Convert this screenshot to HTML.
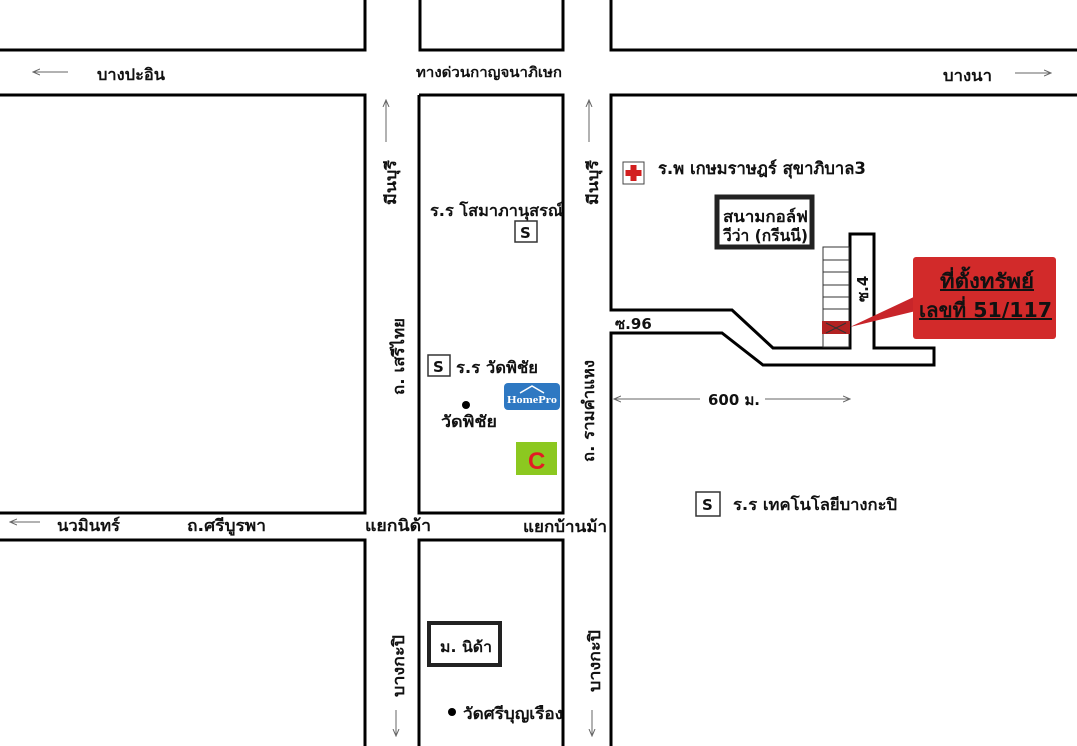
<!DOCTYPE html>
<html><head><meta charset="utf-8"><style>
html,body{margin:0;padding:0;background:#fff;}
svg{display:block;}
text{font-family:"DejaVu Sans","Liberation Sans",sans-serif;font-weight:bold;fill:#111;}
</style></head><body>
<svg width="1077" height="746" viewBox="0 0 1077 746" xmlns="http://www.w3.org/2000/svg">
<defs>
<marker id="ah" markerWidth="8" markerHeight="8" refX="7" refY="4" orient="auto"><path d="M0,1 L7,4 L0,7" fill="none" stroke="#666" stroke-width="1"/></marker>
</defs>
<g fill="none" stroke="#000" stroke-width="3">
<polyline points="0,50 365,50 365,0"/>
<polyline points="420,0 420,50 563,50 563,0"/>
<polyline points="611,0 611,50 1077,50"/>
<polyline points="0,95 365,95 365,513 0,513"/>
<polyline points="419,95 563,95 563,513 419,513 419,95"/>
<polyline points="1077,95 611,95 611,310 732,310 773,348 850,348 850,234 874,234 874,348 934,348 934,365 763,365 722,333 611,333 611,746"/>
<polyline points="0,540 365,540 365,746"/>
<polyline points="419,746 419,540 563,540 563,746"/>
</g>
<rect x="717" y="197" width="95" height="50" fill="#fff" stroke="#222" stroke-width="5"/>
<text x="723" y="222" font-size="16" textLength="85" lengthAdjust="spacingAndGlyphs">สนามกอล์ฟ</text>
<text x="723" y="241" font-size="16" textLength="85" lengthAdjust="spacingAndGlyphs">วีว่า (กรีนนี)</text>
<g stroke="#333" stroke-width="1" fill="none">
<rect x="823" y="247" width="26" height="100"/>
<line x1="823" y1="260" x2="849" y2="260"/><line x1="823" y1="272" x2="849" y2="272"/>
<line x1="823" y1="285" x2="849" y2="285"/><line x1="823" y1="297" x2="849" y2="297"/>
<line x1="823" y1="309" x2="849" y2="309"/>
</g>
<rect x="822" y="321" width="28" height="13" fill="#b22222"/>
<path d="M826,323 L846,333 M846,323 L826,333" stroke="#333" stroke-width="1"/>
<polygon points="850,327 918,295 920,310" fill="#c8252a"/>
<rect x="913" y="257" width="143" height="82" fill="#d22a2a" rx="3"/>
<text x="940" y="288" font-size="20" text-decoration="underline" textLength="94" lengthAdjust="spacingAndGlyphs">ที่ตั้งทรัพย์</text>
<text x="919" y="317" font-size="20" text-decoration="underline" textLength="133" lengthAdjust="spacingAndGlyphs">เลขที่ 51/117</text>
<text font-size="15" transform="translate(868,302) rotate(-90)">ซ.4</text>
<text x="615" y="329" font-size="15">ซ.96</text>
<line x1="700" y1="399" x2="614" y2="399" stroke="#666" marker-end="url(#ah)"/>
<line x1="765" y1="399" x2="850" y2="399" stroke="#666" marker-end="url(#ah)"/>
<text x="708" y="405" font-size="15" textLength="52" lengthAdjust="spacingAndGlyphs">600 ม.</text>
<line x1="68" y1="72" x2="33" y2="72" stroke="#666" marker-end="url(#ah)"/>
<text x="97" y="80" font-size="16" textLength="68" lengthAdjust="spacingAndGlyphs">บางปะอิน</text>
<text x="416" y="77" font-size="14" textLength="146" lengthAdjust="spacingAndGlyphs">ทางด่วนกาญจนาภิเษก</text>
<text x="943" y="81" font-size="16" textLength="49" lengthAdjust="spacingAndGlyphs">บางนา</text>
<line x1="1015" y1="73" x2="1051" y2="73" stroke="#666" marker-end="url(#ah)"/>
<rect x="623" y="162" width="21" height="22" fill="#fff" stroke="#444"/>
<path d="M633.5,165 v16 M625.5,173 h16" stroke="#d21f1f" stroke-width="6"/>
<text x="658" y="174" font-size="16.5" textLength="208" lengthAdjust="spacingAndGlyphs">ร.พ เกษมราษฎร์ สุขาภิบาล3</text>
<line x1="386" y1="142" x2="386" y2="100" stroke="#666" marker-end="url(#ah)"/>
<text font-size="15" transform="translate(396,205) rotate(-90)" textLength="45" lengthAdjust="spacingAndGlyphs">มีนบุรี</text>
<line x1="589" y1="142" x2="589" y2="100" stroke="#666" marker-end="url(#ah)"/>
<text font-size="15" transform="translate(598,205) rotate(-90)" textLength="45" lengthAdjust="spacingAndGlyphs">มีนบุรี</text>
<text font-size="16" transform="translate(404,395) rotate(-90)" textLength="77" lengthAdjust="spacingAndGlyphs">ถ. เสรีไทย</text>
<text font-size="16" transform="translate(594,462) rotate(-90)" textLength="102" lengthAdjust="spacingAndGlyphs">ถ. รามคำแหง</text>
<text font-size="16" transform="translate(404,697) rotate(-90)" textLength="62" lengthAdjust="spacingAndGlyphs">บางกะปิ</text>
<text font-size="16" transform="translate(600,692) rotate(-90)" textLength="62" lengthAdjust="spacingAndGlyphs">บางกะปิ</text>
<line x1="396" y1="710" x2="396" y2="736" stroke="#666" marker-end="url(#ah)"/>
<line x1="592" y1="710" x2="592" y2="736" stroke="#666" marker-end="url(#ah)"/>
<text x="430" y="216" font-size="16" textLength="133" lengthAdjust="spacingAndGlyphs">ร.ร โสมาภานุสรณ์</text>
<rect x="515" y="221" width="22" height="21" fill="#fff" stroke="#333" stroke-width="1.5"/>
<text x="520" y="238" font-size="15">S</text>
<rect x="428" y="355" width="22" height="21" fill="#fff" stroke="#333" stroke-width="1.5"/>
<text x="433" y="372" font-size="15">S</text>
<text x="456" y="373" font-size="16" textLength="82" lengthAdjust="spacingAndGlyphs">ร.ร วัดพิชัย</text>
<rect x="504" y="383" width="56" height="27" rx="4" fill="#2e78c2"/>
<path d="M520,393 L532,386 L544,393" stroke="#fff" fill="none" stroke-width="1.5"/>
<text x="507" y="403" font-size="10" textLength="50" lengthAdjust="spacingAndGlyphs" style="fill:#fff;font-family:'Liberation Serif',serif">HomePro</text>
<circle cx="466" cy="405" r="4" fill="#000"/>
<text x="441" y="427" font-size="16" textLength="56" lengthAdjust="spacingAndGlyphs">วัดพิชัย</text>
<rect x="516" y="442" width="41" height="33" fill="#8cc820"/>
<text x="528" y="469" font-size="24" style="fill:#e21c24;font-family:'Liberation Sans',sans-serif">C</text>
<line x1="40" y1="522" x2="10" y2="522" stroke="#666" marker-end="url(#ah)"/>
<text x="57" y="531" font-size="16" textLength="63" lengthAdjust="spacingAndGlyphs">นวมินทร์</text>
<text x="187" y="531" font-size="16" textLength="79" lengthAdjust="spacingAndGlyphs">ถ.ศรีบูรพา</text>
<text x="365" y="531" font-size="16" textLength="66" lengthAdjust="spacingAndGlyphs">แยกนิด้า</text>
<text x="523" y="532" font-size="16" textLength="84" lengthAdjust="spacingAndGlyphs">แยกบ้านม้า</text>
<rect x="696" y="492" width="24" height="24" fill="#fff" stroke="#333" stroke-width="1.5"/>
<text x="702" y="510" font-size="15">S</text>
<text x="733" y="510" font-size="16" textLength="164" lengthAdjust="spacingAndGlyphs">ร.ร เทคโนโลยีบางกะปิ</text>
<rect x="429" y="623" width="71" height="42" fill="#fff" stroke="#222" stroke-width="4"/>
<text x="440" y="652" font-size="15" textLength="52" lengthAdjust="spacingAndGlyphs">ม. นิด้า</text>
<circle cx="452" cy="712" r="4" fill="#000"/>
<text x="463" y="719" font-size="16" textLength="100" lengthAdjust="spacingAndGlyphs">วัดศรีบุญเรือง</text>
</svg>
</body></html>
